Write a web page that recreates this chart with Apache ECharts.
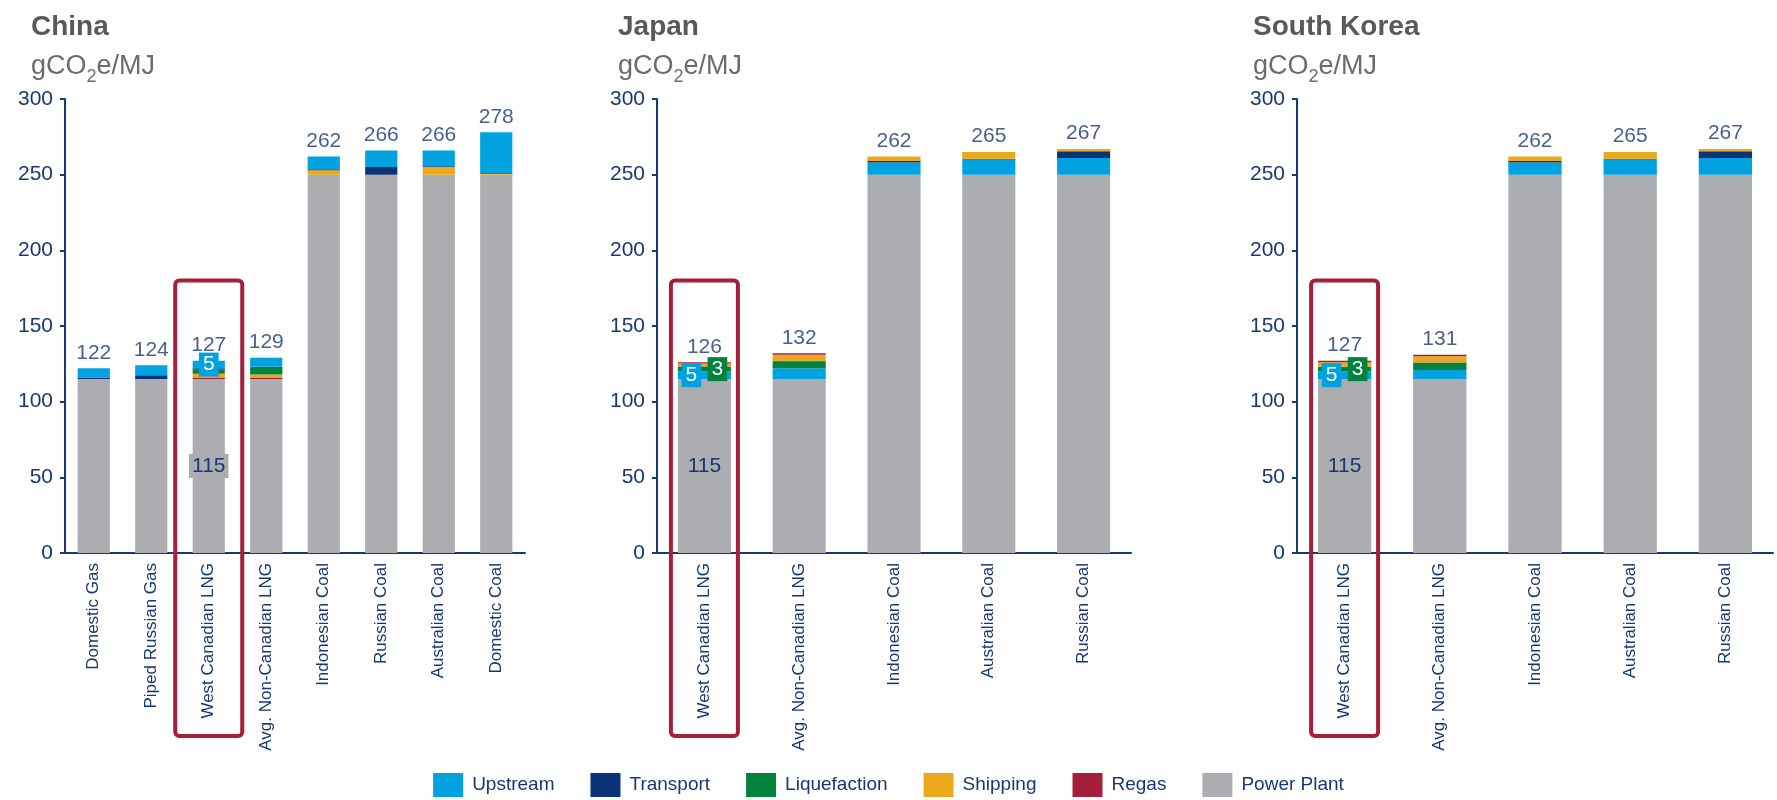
<!DOCTYPE html>
<html>
<head>
<meta charset="utf-8">
<title>Life-cycle GHG intensity of power generation</title>
<script src="https://cdn.jsdelivr.net/npm/echarts@6/dist/echarts.min.js"></script>
<style>
  html, body { margin: 0; padding: 0; background: #ffffff; }
  #chart { width: 1777px; height: 800px; }
</style>
</head>
<body>
<div id="chart"></div>
<script>
// ---- China ----
const cnCategories = ['Domestic Gas', 'Piped Russian Gas', 'West Canadian LNG', 'Avg. Non-Canadian LNG',
  'Indonesian Coal', 'Russian Coal', 'Australian Coal', 'Domestic Coal'];
const cnPowerPlant   = [115, 115, 115, 115, 250, 250, 250, 250];
const cnRegas        = [0, 0, 1, 1, 0, 0, 0, 0];
const cnShipping     = [0, 0, 2.5, 2, 3, 0, 5, 0.5];
const cnLiquefaction = [0, 0, 3, 5, 0, 0, 0, 0];
const cnTransport    = [1, 2.5, 0.5, 0, 0.5, 5, 0.5, 0.5];
const cnUpstream     = [6, 6.5, 5, 6, 8.5, 11, 10.5, 27];

// ---- Japan ----
const jpCategories = ['West Canadian LNG', 'Avg. Non-Canadian LNG', 'Indonesian Coal', 'Australian Coal', 'Russian Coal'];
const jpPowerPlant   = [115, 115, 250, 250, 250];
const jpUpstream     = [5, 7, 8, 10, 11];
const jpLiquefaction = [3, 4.5, 0, 0, 0];
const jpTransport    = [0.3, 0.5, 1, 0.5, 4.5];
const jpShipping     = [2, 4, 3, 4.5, 1.5];
const jpRegas        = [0.7, 1, 0, 0, 0];

// ---- South Korea ----
const krCategories = ['West Canadian LNG', 'Avg. Non-Canadian LNG', 'Indonesian Coal', 'Australian Coal', 'Russian Coal'];
const krPowerPlant   = [115, 115, 250, 250, 250];
const krUpstream     = [5, 6, 8, 10, 11];
const krLiquefaction = [3, 4.5, 0, 0, 0];
const krTransport    = [0, 0.3, 1, 0.5, 4.5];
const krShipping     = [3, 4.2, 3, 4.5, 1.5];
const krRegas        = [1, 1, 0, 0, 0];

const yTicks = { min: 0, max: 300, interval: 50 };
const highlightCategory = 'West Canadian LNG';
const legendNames = ['Upstream', 'Transport', 'Liquefaction', 'Shipping', 'Regas', 'Power Plant'];

const COLORS = {
  'Upstream': '#00a3e0',
  'Transport': '#0b3277',
  'Liquefaction': '#00843d',
  'Shipping': '#eaa81b',
  'Regas': '#a51e3a',
  'Power Plant': '#acadb0'
};
const NAVY = '#173776';
const FONT = '"Liberation Sans", Arial, Helvetica, sans-serif';

const panels = [
  {
    title: 'China', left: 65, width: 460, titleX: 26, categories: cnCategories,
    stack: [
      ['Power Plant', cnPowerPlant], ['Regas', cnRegas], ['Shipping', cnShipping],
      ['Liquefaction', cnLiquefaction], ['Transport', cnTransport], ['Upstream', cnUpstream]
    ],
    callouts: { 'Upstream': [0, 0] }
  },
  {
    title: 'Japan', left: 657, width: 474, titleX: 613, categories: jpCategories,
    stack: [
      ['Power Plant', jpPowerPlant], ['Upstream', jpUpstream], ['Liquefaction', jpLiquefaction],
      ['Transport', jpTransport], ['Shipping', jpShipping], ['Regas', jpRegas]
    ],
    callouts: { 'Upstream': [-13, 0], 'Liquefaction': [13, 0] }
  },
  {
    title: 'South Korea', left: 1297, width: 476, titleX: 1248, categories: krCategories,
    stack: [
      ['Power Plant', krPowerPlant], ['Upstream', krUpstream], ['Liquefaction', krLiquefaction],
      ['Transport', krTransport], ['Shipping', krShipping], ['Regas', krRegas]
    ],
    callouts: { 'Upstream': [-13, 0], 'Liquefaction': [13, 0] }
  }
];

const GRID_TOP = 99;
const GRID_HEIGHT = 454;

const titles = [];
const grids = [];
const xAxes = [];
const yAxes = [];
const series = [];

panels.forEach((p, i) => {
  titles.push({
    text: p.title, left: p.titleX, top: 8,
    textStyle: { fontFamily: FONT, fontSize: 28, fontWeight: 'bold', color: '#595959' }
  });
  titles.push({
    text: '{a|gCO}{s|2}{a|e/MJ}', left: p.titleX, top: 43,
    textStyle: {
      fontFamily: FONT, fontWeight: 'normal', color: '#6b6b6b',
      rich: {
        a: { fontFamily: FONT, fontWeight: 'normal', fontSize: 27, color: '#6b6b6b', lineHeight: 32, verticalAlign: 'bottom' },
        s: { fontFamily: FONT, fontWeight: 'normal', fontSize: 18, color: '#6b6b6b', lineHeight: 32, verticalAlign: 'bottom', padding: [0, 0, -6, 0] }
      }
    }
  });

  grids.push({ left: p.left, top: GRID_TOP, width: p.width, height: GRID_HEIGHT, containLabel: false });

  xAxes.push({
    type: 'category', gridIndex: i, data: p.categories,
    axisLine: { lineStyle: { color: NAVY, width: 2 } },
    axisTick: { show: false },
    axisLabel: { rotate: 90, interval: 0, margin: 10, fontFamily: FONT, fontSize: 17, color: NAVY }
  });

  yAxes.push({
    type: 'value', gridIndex: i, min: yTicks.min, max: yTicks.max, interval: yTicks.interval,
    axisLine: { show: true, lineStyle: { color: NAVY, width: 2 } },
    axisTick: { show: true, length: 5, lineStyle: { color: NAVY, width: 2 } },
    splitLine: { show: false },
    axisLabel: { margin: 12, fontFamily: FONT, fontSize: 21, color: NAVY }
  });

  const hi = p.categories.indexOf(highlightCategory);

  p.stack.forEach(([name, values]) => {
    const data = values.map((v, k) => {
      if (k !== hi) return v;
      if (name === 'Power Plant') {
        return {
          value: v,
          label: {
            show: true, position: 'inside', fontFamily: FONT, fontSize: 21, color: NAVY,
            backgroundColor: COLORS['Power Plant'], padding: [2, 3, 1, 3]
          }
        };
      }
      if (p.callouts[name]) {
        return {
          value: v,
          label: {
            show: true, position: 'inside', offset: p.callouts[name],
            fontFamily: FONT, fontSize: 21, color: '#ffffff',
            backgroundColor: COLORS[name], padding: [2, 4, 1, 4]
          }
        };
      }
      return v;
    });
    series.push({
      name: name, type: 'bar', stack: 'total' + i,
      xAxisIndex: i, yAxisIndex: i,
      barWidth: '56%',
      itemStyle: { color: COLORS[name] },
      emphasis: { disabled: true },
      data: data
    });
  });

  // stack totals written above each column
  const totals = p.categories.map((_, k) => p.stack.reduce((s, [, values]) => s + values[k], 0));
  series.push({
    name: 'Total', type: 'scatter', xAxisIndex: i, yAxisIndex: i,
    symbolSize: 0, silent: true,
    label: {
      show: true, position: 'top', distance: 5,
      fontFamily: FONT, fontSize: 21, color: NAVY,
      formatter: (prm) => String(Math.round(prm.value[1]))
    },
    data: p.categories.map((c, k) => [c, totals[k]])
  });
});

const chart = echarts.init(document.getElementById('chart'), null, { renderer: 'canvas' });
chart.setOption({
  animation: false,
  backgroundColor: '#ffffff',
  title: titles,
  grid: grids,
  xAxis: xAxes,
  yAxis: yAxes,
  legend: {
    data: legendNames,
    left: 'center', top: 768,
    icon: 'rect', itemWidth: 30, itemHeight: 24, itemGap: 36,
    selectedMode: false,
    textStyle: { fontFamily: FONT, fontSize: 19, color: NAVY, padding: [0, 0, 0, 4] }
  },
  series: series
});

// Outline around the West Canadian LNG column of each panel, placed through the axes
const BOX_TOP_VALUE = 180;
const BOX_WIDTH = 67;
const BOX_BELOW_AXIS = 183;
const boxes = panels.map((p, i) => {
  const top = chart.convertToPixel({ xAxisIndex: i, yAxisIndex: i }, [highlightCategory, BOX_TOP_VALUE]);
  const base = chart.convertToPixel({ xAxisIndex: i, yAxisIndex: i }, [highlightCategory, 0]);
  return {
    type: 'rect', z: 100, silent: true,
    shape: { x: top[0] - BOX_WIDTH / 2, y: top[1], width: BOX_WIDTH, height: base[1] + BOX_BELOW_AXIS - top[1], r: 4 },
    style: { fill: 'none', stroke: '#a51e3a', lineWidth: 4 }
  };
});
chart.setOption({ graphic: boxes });
</script>
</body>
</html>
